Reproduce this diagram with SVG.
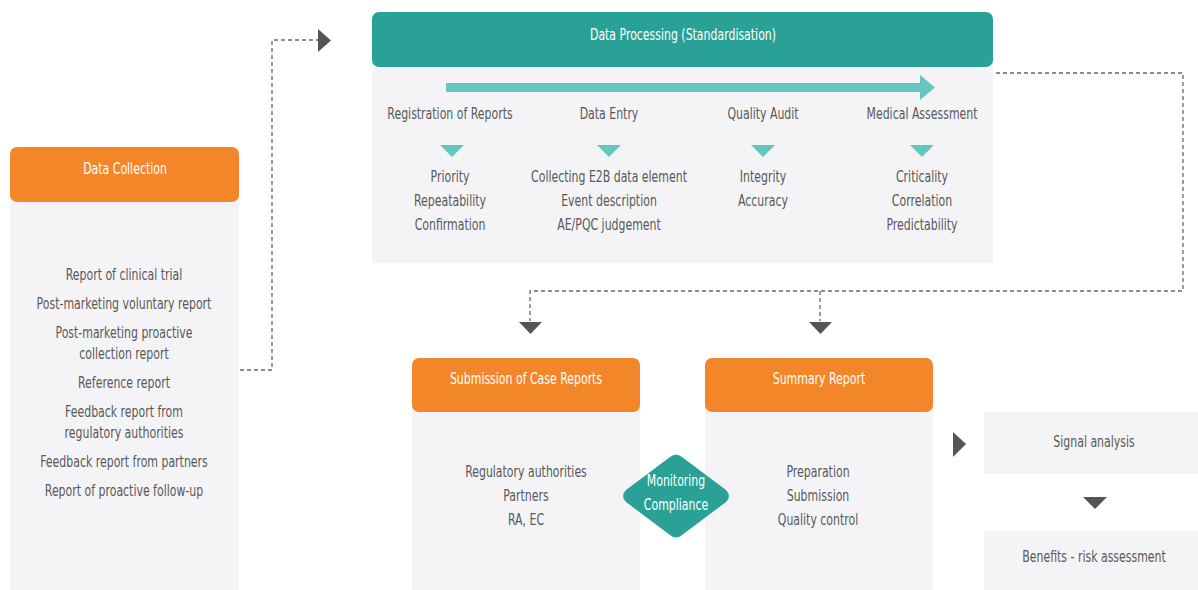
<svg xmlns="http://www.w3.org/2000/svg" width="1198" height="590" viewBox="0 0 1198 590">
<style>
text{font-family:"DejaVu Sans Condensed","Liberation Sans",sans-serif;font-size:15.5px;text-anchor:middle}
.t{fill:#585858}
.h{fill:#ffffff}
.body{fill:#f4f4f6}
.or{fill:#f4862a}
.tl{fill:#2aa197}
.lt{fill:#63c6bf}
.dk{fill:#555555}
.dash{fill:none;stroke:#666;stroke-width:1.3;stroke-dasharray:4 3}
</style>
<rect width="1198" height="590" fill="#fff"/>
<g id="data-collection">
<rect class="body" x="10" y="195" width="229" height="395"/>
<rect class="or" x="10" y="147" width="229" height="55" rx="7"/>
<text class="h" transform="translate(125,174) scale(0.785,1)">Data Collection</text>
<text class="t" transform="translate(124,280) scale(0.785,1)">Report of clinical trial</text>
<text class="t" transform="translate(124,309) scale(0.785,1)">Post-marketing voluntary report</text>
<text class="t" transform="translate(124,338) scale(0.785,1)">Post-marketing proactive</text>
<text class="t" transform="translate(124,359) scale(0.785,1)">collection report</text>
<text class="t" transform="translate(124,388) scale(0.785,1)">Reference report</text>
<text class="t" transform="translate(124,417) scale(0.785,1)">Feedback report from</text>
<text class="t" transform="translate(124,438) scale(0.785,1)">regulatory authorities</text>
<text class="t" transform="translate(124,467) scale(0.785,1)">Feedback report from partners</text>
<text class="t" transform="translate(124,496) scale(0.785,1)">Report of proactive follow-up</text>
</g>
<g id="data-processing">
<rect class="body" x="372" y="60" width="621" height="203"/>
<rect class="tl" x="372" y="12" width="621" height="55" rx="7"/>
<text class="h" transform="translate(683,40) scale(0.785,1)">Data Processing (Standardisation)</text>
<rect class="lt" x="446" y="83" width="476" height="9"/>
<polygon class="lt" points="920,75 935,87.5 920,100"/>
<text class="t" transform="translate(450,119) scale(0.785,1)">Registration of Reports</text>
<text class="t" transform="translate(609,119) scale(0.785,1)">Data Entry</text>
<text class="t" transform="translate(763,119) scale(0.785,1)">Quality Audit</text>
<text class="t" transform="translate(922,119) scale(0.785,1)">Medical Assessment</text>
<polygon class="lt" points="440,145 464,145 452,157"/>
<polygon class="lt" points="597,145 621,145 609,157"/>
<polygon class="lt" points="751,145 775,145 763,157"/>
<polygon class="lt" points="910,145 934,145 922,157"/>
<text class="t" transform="translate(450,182) scale(0.785,1)">Priority</text>
<text class="t" transform="translate(450,206) scale(0.785,1)">Repeatability</text>
<text class="t" transform="translate(450,230) scale(0.785,1)">Confirmation</text>
<text class="t" transform="translate(609,182) scale(0.785,1)">Collecting E2B data element</text>
<text class="t" transform="translate(609,206) scale(0.785,1)">Event description</text>
<text class="t" transform="translate(609,230) scale(0.785,1)">AE/PQC judgement</text>
<text class="t" transform="translate(763,182) scale(0.785,1)">Integrity</text>
<text class="t" transform="translate(763,206) scale(0.785,1)">Accuracy</text>
<text class="t" transform="translate(922,182) scale(0.785,1)">Criticality</text>
<text class="t" transform="translate(922,206) scale(0.785,1)">Correlation</text>
<text class="t" transform="translate(922,230) scale(0.785,1)">Predictability</text>
</g>
<g id="submission">
<rect class="body" x="412" y="405" width="228" height="185"/>
<rect class="or" x="412" y="358" width="228" height="54" rx="7"/>
<text class="h" transform="translate(526,384) scale(0.785,1)">Submission of Case Reports</text>
<text class="t" transform="translate(526,477) scale(0.785,1)">Regulatory authorities</text>
<text class="t" transform="translate(526,501) scale(0.785,1)">Partners</text>
<text class="t" transform="translate(526,525) scale(0.785,1)">RA, EC</text>
</g>
<g id="summary">
<rect class="body" x="705" y="405" width="228" height="185"/>
<rect class="or" x="705" y="358" width="228" height="54" rx="7"/>
<text class="h" transform="translate(819,384) scale(0.785,1)">Summary Report</text>
<text class="t" transform="translate(818,477) scale(0.785,1)">Preparation</text>
<text class="t" transform="translate(818,501) scale(0.785,1)">Submission</text>
<text class="t" transform="translate(818,525) scale(0.785,1)">Quality control</text>
</g>
<g id="monitoring">
<path class="tl" d="M670,457 Q676,452 682,457 L726,490 Q732,496 726,502 L682,535 Q676,540 670,535 L626,502 Q620,496 626,490 Z"/>
<text class="h" transform="translate(676,486) scale(0.785,1)">Monitoring</text>
<text class="h" transform="translate(676,510) scale(0.785,1)">Compliance</text>
</g>
<g id="signal">
<rect class="body" x="984" y="412" width="214" height="62"/>
<text class="t" transform="translate(1094,447) scale(0.785,1)">Signal analysis</text>
</g>
<g id="benefits">
<rect class="body" x="984" y="531" width="214" height="59"/>
<text class="t" transform="translate(1094,562) scale(0.785,1)">Benefits - risk assessment</text>
</g>
<g id="connectors">
<polyline class="dash" points="240,370 272,370 272,40 318,40"/>
<polygon class="dk" points="318,29 331,40.5 318,52"/>
<polyline class="dash" points="996,73 1183,73 1183,291 530,291 530,321"/>
<line class="dash" x1="820" y1="291" x2="820" y2="321"/>
<polygon class="dk" points="519,322 542,322 530.5,334"/>
<polygon class="dk" points="809,322 832,322 820.5,334"/>
<polygon class="dk" points="953,432 966,444 953,457"/>
<polygon class="dk" points="1083,497 1107,497 1095,509"/>
</g>
</svg>
